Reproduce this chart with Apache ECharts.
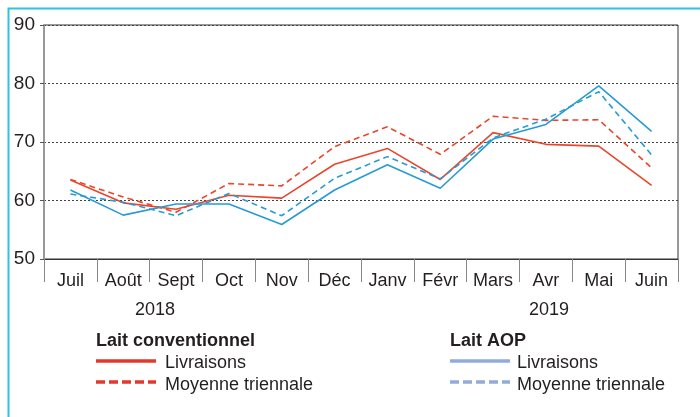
<!DOCTYPE html>
<html>
<head>
<meta charset="utf-8">
<script src="https://cdn.jsdelivr.net/npm/echarts@6/dist/echarts.min.js"></script>
<style>
  html, body { margin: 0; padding: 0; background: #fff; }
  #chart { width: 700px; height: 417px; }
</style>
</head>
<body>
<div id="chart"></div>
<script>
// mois juillet 2018 -> juin 2019
var months = ['Juil', 'Août', 'Sept', 'Oct', 'Nov', 'Déc', 'Janv', 'Févr', 'Mars', 'Avr', 'Mai', 'Juin'];
var yTicks = [50, 60, 70, 80, 90];

/* Lait conventionnel */
var convLivraisons = [63.5, 59.6, 58.5, 60.9, 60.4, 66.2, 68.9, 63.6, 71.6, 69.6, 69.3, 62.6];
var convMoyenne = [63.6, 60.6, 58.0, 62.9, 62.5, 69.2, 72.6, 67.9, 74.4, 73.7, 73.8, 65.6];

/* Lait AOP */
var aopLivraisons = [61.8, 57.5, 59.4, 59.4, 55.9, 61.8, 66.1, 62.1, 70.5, 73.0, 79.6, 71.8];
var aopMoyenne = [61.1, 59.7, 57.4, 61.2, 57.4, 63.8, 67.5, 63.7, 70.7, 73.9, 78.6, 67.8];

var RED = '#e8472c';
var BLUE = '#279bd3';
var FONT = '"Liberation Sans", Arial, sans-serif';
var TXT = '#231f20';

var myChart = echarts.init(document.getElementById('chart'));

function serie(name, data, color, dashed) {
    return {
        name: name,
        type: 'line',
        data: data,
        symbol: 'none',
        animation: false,
        lineStyle: {
            color: color,
            width: 1.6,
            type: dashed ? [6, 4] : 'solid'
        },
        itemStyle: { color: color }
    };
}

// légende dessinée à la main (deux groupes avec titres)
function legendLine(x, y, color, dashed) {
    return {
        type: 'line',
        shape: { x1: x, y1: y, x2: x + 60, y2: y },
        style: { stroke: color, lineWidth: 3.5, lineDash: dashed ? [9, 4] : null }
    };
}
function legendText(x, y, text, bold) {
    return {
        type: 'text',
        x: x,
        y: y,
        style: {
            text: text,
            fill: TXT,
            font: (bold ? 'bold ' : '') + '18px ' + FONT,
            textVerticalAlign: 'middle'
        }
    };
}

var option = {
    backgroundColor: '#fff',
    textStyle: { fontFamily: FONT },
    grid: {
        left: 44,
        right: 22,
        top: 25,
        bottom: 158,
        show: true,
        borderColor: '#333',
        borderWidth: 1
    },
    xAxis: {
        type: 'category',
        data: months,
        boundaryGap: true,
        axisLine: { lineStyle: { color: '#333', width: 1 } },
        axisTick: { show: true, length: 23, lineStyle: { color: '#888' } },
        axisLabel: { color: TXT, fontSize: 18, margin: 13, fontFamily: FONT }
    },
    yAxis: {
        type: 'value',
        min: yTicks[0],
        max: yTicks[yTicks.length - 1],
        interval: 10,
        axisLine: { show: true, lineStyle: { color: '#999', width: 2 } },
        axisTick: { show: true, length: 4, lineStyle: { color: '#555' } },
        axisLabel: { color: TXT, fontSize: 19, margin: 9, fontFamily: FONT },
        splitLine: {
            show: true,
            lineStyle: { color: '#444', type: [2, 2], width: 1 }
        }
    },
    series: [
        serie('Conv. livraisons', convLivraisons, RED, false),
        serie('Conv. moyenne triennale', convMoyenne, RED, true),
        serie('AOP livraisons', aopLivraisons, BLUE, false),
        serie('AOP moyenne triennale', aopMoyenne, BLUE, true)
    ],
    graphic: [
        {
            type: 'polyline',
            shape: { points: [[8.5, 430], [8.5, 8.5], [710, 8.5]] },
            style: { stroke: '#2ec3e2', lineWidth: 2, fill: null }
        },
        { type: 'text', x: 155, y: 310, style: { text: '2018', fill: TXT, font: '18px ' + FONT, textAlign: 'center', textVerticalAlign: 'middle' } },
        { type: 'text', x: 549, y: 310, style: { text: '2019', fill: TXT, font: '18px ' + FONT, textAlign: 'center', textVerticalAlign: 'middle' } },

        legendText(96, 341, 'Lait conventionnel', true),
        legendLine(96, 361, '#e3392c', false),
        legendText(165, 363, 'Livraisons', false),
        legendLine(96, 382, '#e3392c', true),
        legendText(165, 385, 'Moyenne triennale', false),

        legendText(450, 341, 'Lait AOP', true),
        legendLine(450, 361, '#93abda', false),
        legendText(517, 363, 'Livraisons', false),
        legendLine(450, 382, '#93abda', true),
        legendText(517, 385, 'Moyenne triennale', false)
    ]
};

myChart.setOption(option);
</script>
</body>
</html>
